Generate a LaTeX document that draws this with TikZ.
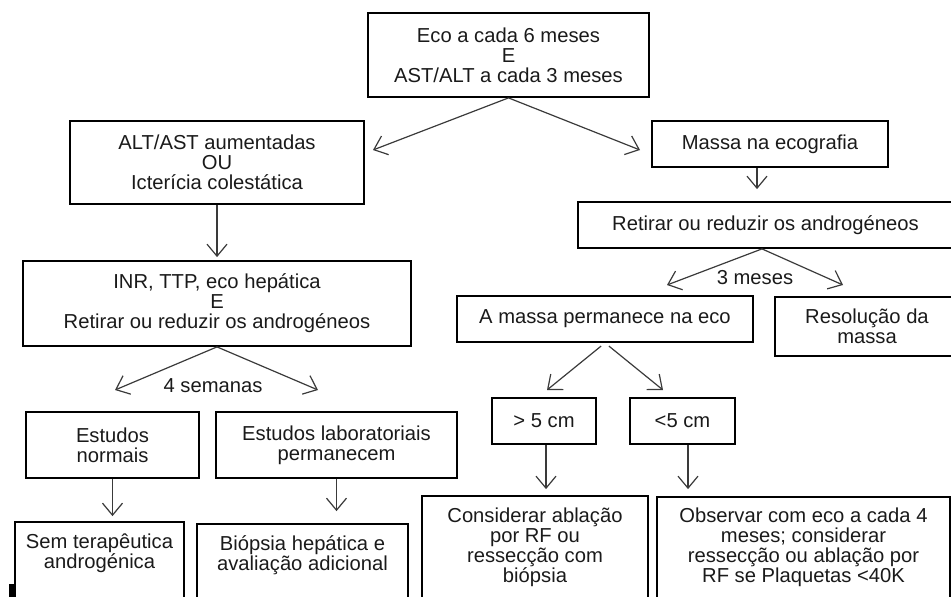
\documentclass[tikz,border=0pt]{standalone}
\usepackage{fontspec}
\setmainfont{Liberation Sans}
\usetikzlibrary{arrows.meta}
\definecolor{txtc}{HTML}{1A1A1A}
\definecolor{arrc}{HTML}{3A3A3A}
\begin{document}
\begin{tikzpicture}[x=1pt,y=-1pt,
  box/.style={draw=black, line width=1.8pt, inner sep=0pt, align=center, text=txtc, font=\fontsize{20.2}{20}\selectfont},
  txt/.style={inner sep=0pt, align=center, text=txtc, font=\fontsize{20.2}{20}\selectfont},
  arr/.style={draw=arrc, line width=1.2pt, -{Straight Barb[length=12pt,width=20pt]}}
]
\useasboundingbox (0,0) rectangle (951,597);

% left column
\node[box, minimum width=281, minimum height=84] (top) at (508.5,55) {Eco a cada 6 meses\\E\\AST/ALT a cada 3 meses};
\node[box, minimum width=294, minimum height=83] (alt) at (217,162.5) {ALT/AST aumentadas\\OU\\Icterícia colestática};
\node[box, minimum width=388, minimum height=85] (inr) at (217,303.5) {INR, TTP, eco hepática\\E\\Retirar ou reduzir os androgéneos};
\node[box, minimum width=173, minimum height=66] (norm) at (112.5,445) {Estudos\\normais};
\node[box, minimum width=241, minimum height=66] (lab) at (336.5,445) {Estudos laboratoriais\\permanecem};
\node[box, minimum width=169, minimum height=128] (sem) at (99.5,586) {};
\node[txt] (semtxt) at (99.5,553) {Sem terapêutica\\androgénica};
\node[box, minimum width=211, minimum height=126] (biop) at (302.5,587) {};
\node[txt] (bioptxt) at (302.5,555.5) {Biópsia hepática e\\avaliação adicional};

% right column
\node[box, minimum width=236, minimum height=46] (massa) at (770,144) {Massa na ecografia};
\node[box, minimum width=375, minimum height=46] (ret) at (765.5,225) {Retirar ou reduzir os androgéneos};
\node[box, minimum width=296, minimum height=46] (amassa) at (605,319) {A massa permanece na eco};
\node[box, minimum width=184, minimum height=59] (resol) at (867,326.5) {Resolução da\\massa};
\node[box, minimum width=104, minimum height=46] (gt) at (544,421) {> 5 cm};
\node[box, minimum width=105, minimum height=46] (lt) at (682.5,421) {<5 cm};
\node[box, minimum width=226, minimum height=154] (cons) at (535,573) {};
\node[txt] (constxt) at (535,547) {Considerar ablação\\por RF ou\\ressecção com\\biópsia};
\node[box, minimum width=293, minimum height=153] (obs) at (803.5,573.5) {};
\node[txt] (obstxt) at (803.5,547) {Observar com eco a cada 4\\meses; considerar\\ressecção ou ablação por\\RF se Plaquetas <40K};

% labels
\node[txt] (lbl4) at (213,386) {4 semanas};
\node[txt] (lbl3) at (755,278) {3 meses};

% tips
\coordinate (t1) at (373,150);
\coordinate (t2) at (640,150);
\coordinate (t3) at (115,390);
\coordinate (t4) at (318,390);
\coordinate (t5) at (667,285);
\coordinate (t6) at (843,285);
\coordinate (t7) at (547,390);
\coordinate (t8) at (663,390);

\draw[arr] (top.south) -- (t1);
\draw[arr] (top.south) -- (t2);
\draw[arr, shorten >=3pt] (alt.south) -- (inr.north);
\draw[arr] (inr.south) -- (t3);
\draw[arr] (inr.south) -- (t4);
\draw[arr, shorten >=5pt] (norm.south) -- (norm.south |- sem.north);
\draw[arr, shorten >=12pt] (lab.south) -- (lab.south |- biop.north);
\draw[arr, shorten >=12pt] ([xshift=-13pt]massa.south) -- ([xshift=-13pt]massa.south |- ret.north);
\draw[arr] ([xshift=-3.5pt]ret.south) -- (t5);
\draw[arr] ([xshift=-3.5pt]ret.south) -- (t6);
\draw[arr, shorten <=5pt] (amassa.south) -- (t7);
\draw[arr, shorten <=5pt] (amassa.south) -- (t8);
\draw[arr, shorten >=6pt] ([xshift=2pt]gt.south) -- ([xshift=2pt]gt.south |- cons.north);
\draw[arr, shorten >=7pt] ([xshift=5.5pt]lt.south) -- ([xshift=5.5pt]lt.south |- obs.north);

% mark at bottom left
\fill[black] (9,584) rectangle (15,597);
\end{tikzpicture}
\end{document}
